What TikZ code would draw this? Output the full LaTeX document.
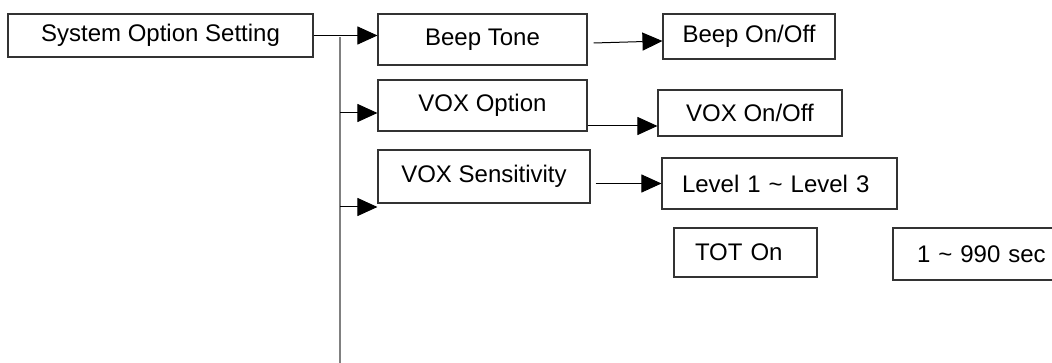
\documentclass[tikz,border=0pt]{standalone}
\usepackage{fontspec}
\setmainfont{Liberation Sans}
\usetikzlibrary{arrows.meta}

\begin{document}
\begin{tikzpicture}[x=1pt,y=-1pt,
    box/.style={draw=black!80,line width=1.1pt,inner sep=0pt,font=\fontsize{24}{28}\selectfont},
    arr/.style={line width=1pt,-{Triangle[length=20pt,width=18pt]}},
    trunk/.style={draw=black!50,line width=2pt}]

    \clip (0,0) rectangle (1052,363);
    \fill[white] (0,0) rectangle (1052,363);

    \node[box,minimum width=305pt,minimum height=43pt] (sys) at (160.5,35.5) {System Option Setting};
    \node[box,minimum width=209pt,minimum height=51pt] (beep) at (482.5,39.5) {Beep Tone};
    \node[box,minimum width=209pt,minimum height=51pt] (voxopt) at (482.5,105.5) {VOX Option};
    \node[box,minimum width=212pt,minimum height=53pt] (vsens) at (484,176.5) {VOX Sensitivity};
    \node[box,minimum width=172pt,minimum height=45pt] (beeponoff) at (749,36.5) {Beep On/Off};
    \node[box,minimum width=184pt,minimum height=46pt] (voxonoff) at (750,113) {VOX On/Off};
    \node[box,minimum width=235pt,minimum height=51pt,text width=195pt,align=left] (level) at (779.5,183.5) {Level 1 \char`~\ Level 3};
    \node[box,minimum width=143pt,minimum height=49pt,text width=101pt,align=left] (tot) at (745.5,252.5) {TOT On};
    \node[box,minimum width=197pt,minimum height=52pt,text width=149pt,align=left] (sec) at (991.5,254) {1 \char`~\ 990 sec};

    \coordinate (top) at (340,37);
    \coordinate (bot) at (340,363);
    \coordinate (b2) at (340,113);
    \coordinate (b3) at (340,207);

    \draw[trunk] (top) -- (bot);
    \draw[arr] (sys.east) -- (sys.east -| beep.west);
    \draw[arr] (b2) -- (b2 -| voxopt.west);
    \draw[arr] (b3) -- (b3 -| vsens.west);
    \draw[arr] ([xshift=6pt,yshift=-3.5pt]beep.east) -- ([yshift=-4.5pt]beeponoff.west);
    \draw[arr] ([yshift=-20.5pt]voxopt.east) -- ([yshift=-20.5pt]voxopt.east -| voxonoff.west);
    \draw[arr] ([xshift=5pt]vsens.east |- level.west) -- (level.west);

\end{tikzpicture}
\end{document}
